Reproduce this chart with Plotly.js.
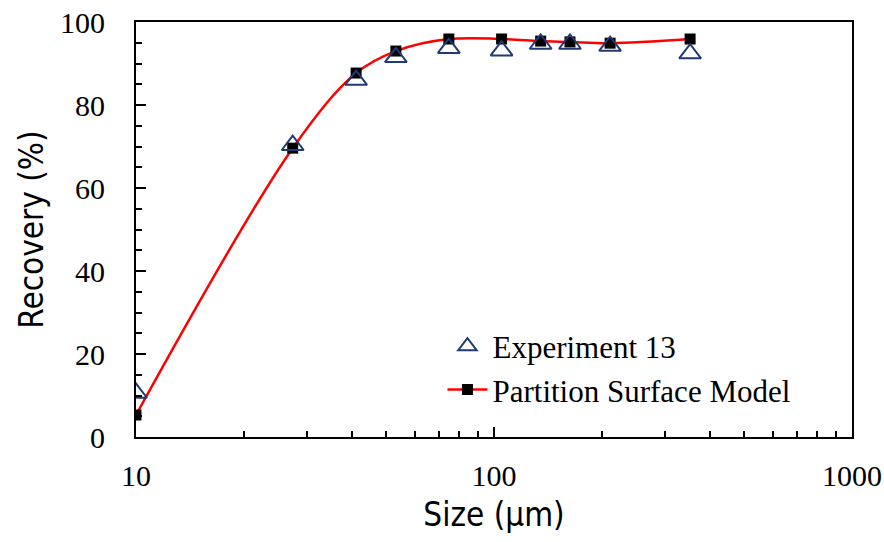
<!DOCTYPE html>
<html><head><meta charset="utf-8">
<script src="https://cdn.plot.ly/plotly-3.0.1.min.js"></script>
<style>html,body{margin:0;padding:0;background:#fff}#chart{width:884px;height:542px}</style>
</head><body><div id="chart"></div>
<script>
const sizes = [10, 27.4, 41.2, 53.2, 74.8, 105, 135, 163, 211, 353];
const experiment13 = [10.6, 70.3, 86.0, 91.5, 93.7, 93.1, 94.7, 94.7, 94.2, 92.4];
const partitionModel = [5.3, 69.6, 87.7, 93.0, 95.9, 95.9, 95.4, 95.2, 94.9, 95.9];
const xTickVals = [10, 100, 1000];
const xTickText = ['10', '100', '1000'];

const serif = 'Liberation Serif, Times New Roman, serif';
const sans = 'DejaVu Sans Condensed, Noto Sans, DejaVu Sans, sans-serif';

const traces = [
  {
    x: sizes, y: partitionModel, type: 'scatter', mode: 'lines+markers',
    name: 'Partition Surface Model',
    line: {color: '#ff0000', width: 2.5, shape: 'spline', smoothing: 1},
    marker: {symbol: 'square', size: 11, color: '#000000'}
  },
  {
    x: sizes, y: experiment13, type: 'scatter', mode: 'markers',
    name: 'Experiment 13',
    marker: {symbol: 'triangle-up-open', size: 19, color: '#1f3a75', line: {width: 2, color: '#1f3a75'}}
  }
];

const layout = {
  width: 884, height: 542,
  margin: {l: 136, r: 32, t: 22, b: 105},
  paper_bgcolor: '#fff', plot_bgcolor: '#fff',
  showlegend: true,
  legend: {
    x: 0.428, y: 0.283, xanchor: 'left', yanchor: 'top',
    traceorder: 'reversed', font: {family: serif, size: 31, color: '#000'},
    bgcolor: 'rgba(0,0,0,0)', itemwidth: 40
  },
  xaxis: {
    type: 'log', range: [1, 3],
    tickvals: xTickVals, ticktext: xTickText,
    ticks: 'inside', ticklen: 10, tickwidth: 2, tickcolor: '#000',
    minor: {ticks: 'inside', ticklen: 6, tickwidth: 2, tickcolor: '#000', dtick: 'D1'},
    showline: true, linecolor: '#000', linewidth: 2, mirror: true,
    showgrid: false, zeroline: false,
    ticklabelstandoff: 11,
    tickfont: {family: serif, size: 30, color: '#000'},
    title: {text: 'Size (µm)', font: {family: sans, size: 33, color: '#000'}, standoff: 12}
  },
  yaxis: {
    range: [0, 100], dtick: 20, tick0: 0,
    ticks: 'inside', ticklen: 10, tickwidth: 2, tickcolor: '#000',
    minor: {ticks: 'inside', ticklen: 6, tickwidth: 2, tickcolor: '#000', dtick: 5},
    showline: true, linecolor: '#000', linewidth: 2, mirror: true,
    showgrid: false, zeroline: false,
    ticklabelstandoff: 23,
    tickfont: {family: serif, size: 30, color: '#000'},
    title: {text: 'Recovery (%)', font: {family: sans, size: 33, color: '#000'}, standoff: 6}
  }
};

Plotly.newPlot('chart', traces, layout, {displayModeBar: false, staticPlot: true});
</script>
</body></html>
